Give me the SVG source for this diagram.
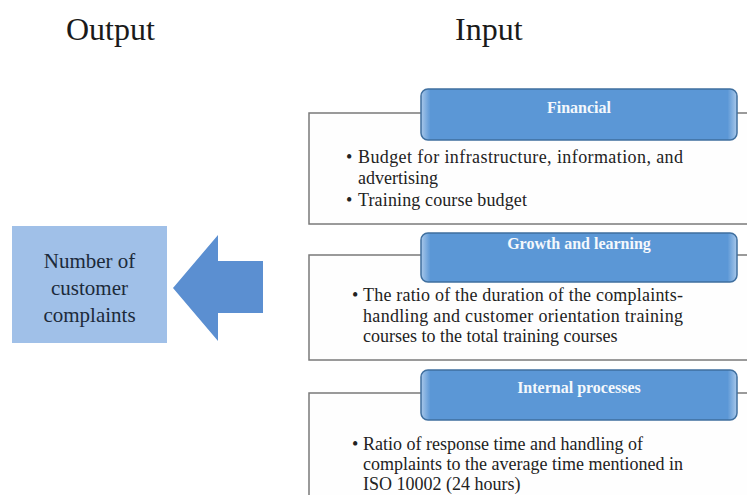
<svg xmlns="http://www.w3.org/2000/svg" width="747" height="495" viewBox="0 0 747 495">
<style>
.title{font-family:"Liberation Serif","Times New Roman",serif;font-size:32px;fill:#1a1a1a}
.panel{fill:#fefefe;stroke:#7a7a7a;stroke-width:1.5}
.hdr{fill:url(#hg);stroke:#3f6f9f;stroke-width:1.5}
.hdrtxt{font-family:"Liberation Serif","Times New Roman",serif;font-size:16px;font-weight:bold;fill:#f4f8fc;text-anchor:middle}
.body{font-family:"Liberation Serif","Times New Roman",serif;font-size:18px;fill:#222}
.out{font-family:"Liberation Serif","Times New Roman",serif;font-size:21px;fill:#1c2a3a;text-anchor:middle}
</style>
<defs>
<linearGradient id="hg" x1="0" y1="0" x2="1" y2="0">
<stop offset="0" stop-color="#a9c8ea"/>
<stop offset="0.03" stop-color="#5b97d6"/>
<stop offset="0.97" stop-color="#5b97d6"/>
<stop offset="1" stop-color="#a9c8ea"/>
</linearGradient>
</defs>
<rect width="747" height="495" fill="#ffffff"/>
<text class="title" x="66" y="40">Output</text>
<text class="title" x="455" y="40">Input</text>

<g id="output">
<rect x="12" y="226" width="155" height="117" fill="#a0c0e8"/>
<text class="out" x="89.5" y="268">Number of</text>
<text class="out" x="89.5" y="295">customer</text>
<text class="out" x="89.5" y="322">complaints</text>
</g>

<g id="connectors">
<polygon points="173,288 218,235 218,261 263,261 263,313 218,313 218,341" fill="#5b8fd1"/>
</g>

<g id="financial">
<rect class="panel" x="309" y="113" width="460" height="111"/>
<rect class="hdr" x="421" y="89" width="316" height="51" rx="7"/>
<text class="hdrtxt" x="579" y="113">Financial</text>
<text class="body" x="346" y="163">•</text>
<text class="body" x="358" y="163" textLength="325" lengthAdjust="spacing">Budget for infrastructure, information, and</text>
<text class="body" x="358" y="184">advertising</text>
<text class="body" x="346" y="206">•</text>
<text class="body" x="358" y="206" textLength="169" lengthAdjust="spacing">Training course budget</text>
</g>

<g id="growth">
<rect class="panel" x="309" y="255" width="460" height="105"/>
<rect class="hdr" x="421" y="233" width="316" height="49" rx="7"/>
<text class="hdrtxt" x="579" y="249">Growth and learning</text>
<text class="body" x="352" y="301">•</text>
<text class="body" x="363" y="301" textLength="320" lengthAdjust="spacing">The ratio of the duration of the complaints-</text>
<text class="body" x="363" y="322" textLength="320" lengthAdjust="spacing">handling and customer orientation training</text>
<text class="body" x="363" y="342">courses to the total training courses</text>
</g>

<g id="internal">
<rect class="panel" x="309" y="393" width="460" height="130"/>
<rect class="hdr" x="421" y="370" width="316" height="50" rx="7"/>
<text class="hdrtxt" x="579" y="393">Internal processes</text>
<text class="body" x="352" y="450">•</text>
<text class="body" x="363" y="450">Ratio of response time and handling of</text>
<text class="body" x="363" y="470" textLength="320" lengthAdjust="spacing">complaints to the average time mentioned in</text>
<text class="body" x="363" y="490">ISO 10002 (24 hours)</text>
</g>
</svg>
